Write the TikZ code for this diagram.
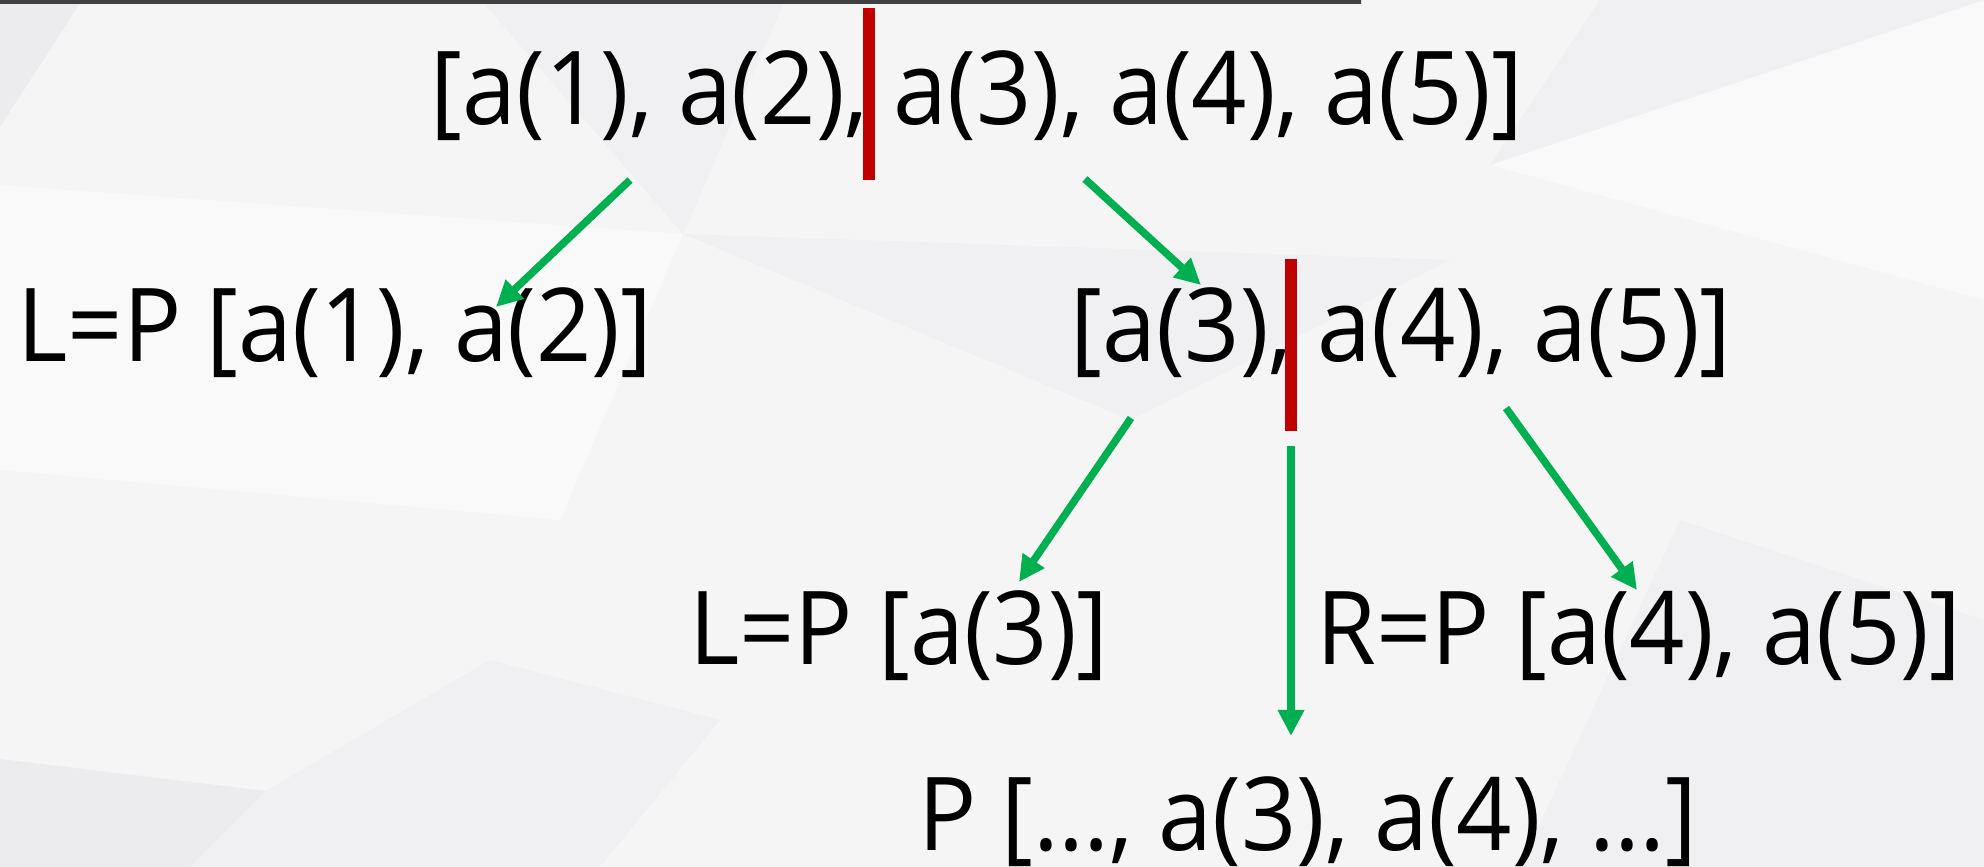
\documentclass[tikz,border=0pt]{standalone}
\usepackage{fontspec}
\setmainfont{Open Sans}[FakeStretch=0.95]
\usepackage{xcolor}
\usepackage{tikz}
\usetikzlibrary{arrows.meta}

\definecolor{splitred}{HTML}{C00000}
\definecolor{flowgreen}{HTML}{00B050}
\definecolor{bgbase}{HTML}{F5F5F6}
\definecolor{bgdark}{HTML}{ECECEE}
\definecolor{bgmid}{HTML}{F0F0F2}
\definecolor{bglight}{HTML}{F9F9FA}

\begin{document}
\begin{tikzpicture}[x=0.01cm, y=-0.01cm,
  lst/.style={font=\fontsize{29}{34}\selectfont, inner sep=0pt, anchor=base},
  arrow/.style={-{Triangle[length=2.6mm, width=2.5mm]}, line width=0.75mm, flowgreen},
  cut/.style={line width=1.2mm, splitred}]

\useasboundingbox (0,0) rectangle (1984,867);
\fill[bgbase] (0,0) rectangle (1984,867);
\fill[bgdark] (0,0) -- (82,0) -- (0,127) -- cycle;
\fill[bgmid] (481,0) -- (785,0) -- (683,234) -- cycle;
\fill[bglight] (0,185) -- (683,234) -- (560,520) -- (0,470) -- cycle;
\fill[bgmid] (683,234) -- (1450,260) -- (1130,420) -- cycle;
\fill[bglight] (1490,165) -- (1984,0) -- (1984,300) -- cycle;
\fill[bgmid] (1600,0) -- (1984,0) -- (1490,165) -- cycle;
\fill[bgdark] (0,759) -- (266,791) -- (190,867) -- (0,867) -- cycle;
\fill[bgmid] (266,791) -- (490,660) -- (720,720) -- (600,867) -- (190,867) -- cycle;
\fill[bgmid] (1680,520) -- (1984,620) -- (1984,867) -- (1520,867) -- cycle;
\shade[left color=black!75, middle color=black!25, right color=black!75] (0,0) rectangle (1361,4);

\node[lst] (all) at (977,125) {[a(1), a(2), a(3), a(4), a(5)]};
\node[lst] (left) at (335,361) {L=P [a(1), a(2)]};
\node[lst] (right) at (1401,361) {[a(3), a(4), a(5)]};
\node[lst] (rleft) at (899,664) {L=P [a(3)]};
\node[lst] (rright) at (1639,664) {R=P [a(4), a(5)]};
\node[lst] (merged) at (1308,850) {P […, a(3), a(4), …]};

\coordinate (c1a) at (869,8);
\coordinate (c1b) at (869,180);
\coordinate (c2a) at (1291,259);
\coordinate (c2b) at (1291,431);
\draw[cut] (c1a) -- (c1b);
\draw[cut] (c2a) -- (c2b);

\coordinate (t1) at (630,180);
\coordinate (h1) at (496,307);
\coordinate (t2) at (1085,179);
\coordinate (h2) at (1201,285);
\coordinate (t3) at (1131,418);
\coordinate (h3) at (1019,582);
\coordinate (t4) at (1291,446);
\coordinate (h4) at (1291,736);
\coordinate (t5) at (1506,408);
\coordinate (h5) at (1637,590);

\draw[arrow] (t1) -- (h1);
\draw[arrow] (t2) -- (h2);
\draw[arrow] (t3) -- (h3);
\draw[arrow] (t4) -- (h4);
\draw[arrow] (t5) -- (h5);
\end{tikzpicture}
\end{document}
